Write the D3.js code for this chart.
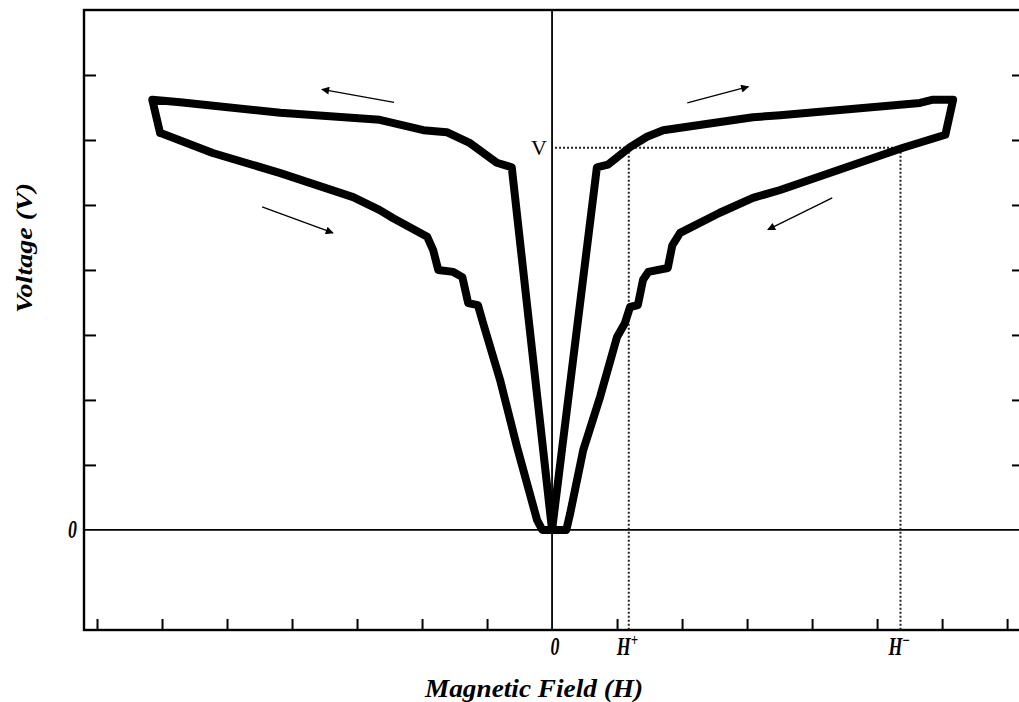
<!DOCTYPE html>
<html>
<head>
<meta charset="utf-8">
<script src="https://cdn.jsdelivr.net/npm/d3@7"></script>
<style>
  html, body { margin: 0; padding: 0; background: #fff; }
  body { width: 1019px; height: 702px; overflow: hidden; }
  text { font-family: "Liberation Serif", "Times New Roman", serif; }
</style>
</head>
<body>
<div id="root"><svg></svg></div>
<script>
const width = 1019;
const height = 702;

// field (H) and voltage (V) values along the loop
// sweep up: lower-left branch, through zero, upper-right branch
const upH = [-6.03, -5.22, -4.18, -3.06, -2.65, -2.45, -1.92, -1.83, -1.75, -1.52, -1.38, -1.29, -1.14, -1.06, -0.80, -0.54, -0.23, -0.15, 0.0,
             0.69, 0.86, 1.20, 1.46, 1.71, 3.09, 3.51, 5.66, 5.86, 6.17];
const upV = [6.11, 5.80, 5.49, 5.12, 4.92, 4.80, 4.51, 4.31, 4.00, 3.97, 3.89, 3.49, 3.46, 3.18, 2.31, 1.28, 0.15, 0.0, 0.0,
             5.58, 5.62, 5.89, 6.05, 6.15, 6.35, 6.38, 6.57, 6.62, 6.62];
// sweep down: lower-right branch, through zero, upper-left branch
const downH = [6.05, 5.40, 3.51, 3.09, 2.58, 1.97, 1.85, 1.78, 1.48, 1.40, 1.32, 1.20, 1.12, 1.00, 0.74, 0.48, 0.28, 0.22, 0.0,
               -0.62, -0.85, -1.26, -1.62, -1.98, -2.65, -4.18, -5.72, -6.15, -6.03];
const downV = [6.08, 5.88, 5.23, 5.11, 4.88, 4.57, 4.38, 4.03, 3.97, 3.85, 3.46, 3.43, 3.18, 2.97, 2.05, 1.23, 0.26, 0.0, 0.0,
               5.58, 5.65, 5.95, 6.12, 6.15, 6.31, 6.42, 6.58, 6.62, 6.11];

// sweep direction arrows: [H tail, V tail, H head, V head]
const arrows = [
  [-2.43, 6.58, -3.54, 6.78],
  [2.08, 6.57, 3.02, 6.82],
  [-4.46, 4.97, -3.37, 4.57],
  [4.31, 5.11, 3.32, 4.62]
];

const xTicks = [-7, -6, -5, -4, -3, -2, -1, 1, 2, 3, 4, 5, 6, 7];
const yTicks = [1, 2, 3, 4, 5, 6, 7];
const readV = 5.88;
const hPlus = 1.18, hMinus = 5.36;

const xDomain = [-7.2, 7.26];
const yDomain = [-1.54, 8];

const plotL = 84, plotR = 1024, plotT = 10, plotB = 630;

const x = d3.scaleLinear().domain(xDomain).range([plotL, plotR]);
const y = d3.scaleLinear().domain(yDomain).range([plotB, plotT]);

const svg = d3.select('#root').select('svg')
    .attr('width', width)
    .attr('height', height);

const defs = svg.append('defs');
defs.append('marker')
    .attr('id', 'head')
    .attr('viewBox', '0 0 10 10')
    .attr('refX', 9).attr('refY', 5)
    .attr('markerWidth', 12).attr('markerHeight', 8)
    .attr('markerUnits', 'userSpaceOnUse')
    .attr('orient', 'auto')
    .append('path')
    .attr('d', 'M0,0 L10,5 L0,10 Z')
    .attr('fill', '#000');

// frame
svg.append('rect')
    .attr('x', plotL).attr('y', plotT)
    .attr('width', plotR - plotL).attr('height', plotB - plotT)
    .attr('fill', 'none').attr('stroke', '#000').attr('stroke-width', 2.4);

// ticks, drawn inward
const bottomAxis = d3.axisTop(x).tickValues(xTicks).tickSize(11).tickFormat('');
svg.append('g').attr('transform', `translate(0,${plotB})`).call(bottomAxis)
    .call(g => g.select('.domain').remove())
    .call(g => g.selectAll('line').attr('stroke-width', 2));

const leftAxis = d3.axisRight(y).tickValues(yTicks).tickSize(12).tickFormat('');
svg.append('g').attr('transform', `translate(${plotL},0)`).call(leftAxis)
    .call(g => g.select('.domain').remove())
    .call(g => g.selectAll('line').attr('stroke-width', 2));

const rightAxis = d3.axisLeft(y).tickValues(yTicks).tickSize(12).tickFormat('');
svg.append('g').attr('transform', `translate(${plotR},0)`).call(rightAxis)
    .call(g => g.select('.domain').remove())
    .call(g => g.selectAll('line').attr('stroke-width', 2));

// zero lines
svg.append('line')
    .attr('x1', x(0)).attr('x2', x(0)).attr('y1', plotT).attr('y2', plotB)
    .attr('stroke', '#000').attr('stroke-width', 1.8);
svg.append('line')
    .attr('x1', plotL).attr('x2', plotR).attr('y1', y(0)).attr('y2', y(0))
    .attr('stroke', '#000').attr('stroke-width', 1.8);

// dotted read-out lines
const dotted = svg.append('g')
    .attr('stroke', '#222').attr('stroke-width', 2)
    .attr('stroke-dasharray', '2,2').attr('fill', 'none');
dotted.append('line')
    .attr('x1', x(0) + 3).attr('x2', x(hMinus)).attr('y1', y(readV)).attr('y2', y(readV));
[hPlus, hMinus].forEach(h => {
  dotted.append('line')
      .attr('x1', x(h)).attr('x2', x(h)).attr('y1', y(readV)).attr('y2', plotB);
});

// loop
const loop = upH.map((h, i) => [h, upV[i]])
    .concat(downH.map((h, i) => [h, downV[i]]));
const line = d3.line().x(d => x(d[0])).y(d => y(d[1]));
svg.append('path')
    .datum(loop)
    .attr('d', line)
    .attr('fill', 'none')
    .attr('stroke', '#000')
    .attr('stroke-width', 8)
    .attr('stroke-linejoin', 'round')
    .attr('stroke-linecap', 'round');

// arrows
svg.append('g').selectAll('line')
    .data(arrows)
    .join('line')
    .attr('x1', d => x(d[0])).attr('y1', d => y(d[1]))
    .attr('x2', d => x(d[2])).attr('y2', d => y(d[3]))
    .attr('stroke', '#000').attr('stroke-width', 1.3)
    .attr('marker-end', 'url(#head)');

// labels (tall, narrow bold italic like the original)
const lab = svg.append('g')
    .attr('font-weight', 'bold').attr('font-style', 'italic');

function tall(g, px, py, sx, sy) {
  return g.append('text').attr('transform', `translate(${px},${py}) scale(${sx},${sy})`);
}

tall(lab, x(0) + 3, 655, 0.85, 1.15)
    .attr('text-anchor', 'middle').attr('font-size', 21)
    .text('0');

const hp = tall(lab, x(hPlus) - 12, 655, 0.85, 1.15).attr('font-size', 21);
hp.append('tspan').text('H');
hp.append('tspan').attr('dy', -8).attr('font-size', 15).text('+');

const hm = tall(lab, x(hMinus) - 12, 655, 0.85, 1.15).attr('font-size', 21);
hm.append('tspan').text('H');
hm.append('tspan').attr('dy', -8).attr('font-size', 15).text('\u2212');

tall(lab, 77, y(0) + 8, 0.85, 1.15)
    .attr('text-anchor', 'end').attr('font-size', 21)
    .text('0');

tall(lab, 425, 697, 1, 1.15)
    .attr('font-size', 22)
    .attr('textLength', 218).attr('lengthAdjust', 'spacingAndGlyphs')
    .text('Magnetic Field (H)');

lab.append('text')
    .attr('transform', 'translate(32,313) rotate(-90) scale(1,1.1)')
    .attr('font-size', 21)
    .attr('textLength', 130).attr('lengthAdjust', 'spacingAndGlyphs')
    .text('Voltage (V)');

svg.append('text')
    .attr('x', 547).attr('y', y(readV) + 7)
    .attr('text-anchor', 'end').attr('font-size', 22)
    .text('V');
</script>
</body>
</html>
